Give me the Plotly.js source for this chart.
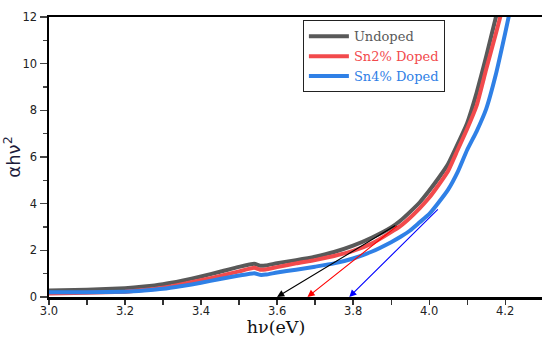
<!DOCTYPE html>
<html>
<head>
<meta charset="utf-8">
<script src="https://cdn.plot.ly/plotly-3.0.1.min.js"></script>
<style>html,body{margin:0;padding:0;background:#fff;}#chart{width:542px;height:337px;}</style>
</head>
<body>
<div id="chart"></div>
<script>
// photon energy hv (eV)
var energy = [3.00, 3.10, 3.20, 3.25, 3.30, 3.35, 3.40, 3.45, 3.50, 3.54, 3.555, 3.57, 3.60, 3.65, 3.70, 3.75, 3.80, 3.85, 3.90, 3.925, 3.95, 3.975, 4.00, 4.025, 4.05, 4.075, 4.10, 4.125, 4.15, 4.175, 4.20, 4.225];
// (alpha h nu)^2 for each sample
var undoped = [0.28, 0.31, 0.38, 0.45, 0.55, 0.70, 0.88, 1.08, 1.29, 1.42, 1.34, 1.35, 1.45, 1.58, 1.73, 1.93, 2.20, 2.55, 2.98, 3.28, 3.65, 4.05, 4.55, 5.10, 5.70, 6.55, 7.45, 8.75, 10.3, 11.95, 13.6, 15.3];
var sn2 = [0.15, 0.18, 0.23, 0.30, 0.40, 0.55, 0.72, 0.90, 1.10, 1.25, 1.17, 1.18, 1.28, 1.44, 1.58, 1.76, 1.98, 2.30, 2.78, 3.05, 3.40, 3.80, 4.25, 4.80, 5.40, 6.30, 7.20, 8.20, 9.75, 11.25, 12.8, 14.4];
var sn4 = [0.20, 0.20, 0.23, 0.28, 0.35, 0.47, 0.61, 0.77, 0.92, 1.02, 0.95, 0.96, 1.05, 1.17, 1.30, 1.44, 1.65, 1.95, 2.35, 2.58, 2.85, 3.20, 3.55, 4.05, 4.60, 5.35, 6.30, 7.10, 8.05, 9.50, 11.3, 13.2];
var seriesNames = ["Undoped", "Sn2% Doped", "Sn4% Doped"];
var seriesColors = ["#595959", "#f24a4c", "#2f80e6"];
// Tauc extrapolation lines: start point on curve, intercept on energy axis
var tangentStartX = [3.915, 3.92, 4.027];
var tangentStartY = [3.1, 3.1, 3.82];
var bandGap = [3.60, 3.68, 3.79];
var tangentColors = ["#000000", "#ff0000", "#0000ff"];

var ys = [undoped, sn2, sn4];
var traces = ys.map(function (y, i) {
  return {
    x: energy, y: y, type: "scatter", mode: "lines",
    name: '<span style="color:' + seriesColors[i] + '">' + seriesNames[i] + '</span>',
    line: {color: seriesColors[i], width: 4, shape: "spline", smoothing: 0.4}
  };
});

var annotations = bandGap.map(function (bg, i) {
  return {
    x: bg, y: 0, xref: "x", yref: "y",
    ax: tangentStartX[i], ay: tangentStartY[i], axref: "x", ayref: "y",
    showarrow: true, arrowhead: 2, arrowsize: 1.3, arrowwidth: 1.1,
    arrowcolor: tangentColors[i], text: "", standoff: 0, startstandoff: 0
  };
});

var layout = {
  width: 542, height: 337,
  margin: {l: 49, r: 0, t: 17, b: 40},
  paper_bgcolor: "#fff", plot_bgcolor: "#fff",
  showlegend: true,
  legend: {
    x: 0.515, y: 0.988, xanchor: "left", yanchor: "top",
    bgcolor: "#fff", bordercolor: "#222", borderwidth: 1,
    font: {family: "DejaVu Serif", size: 13, color: "#555"},
    tracegroupgap: 0, itemwidth: 40
  },
  xaxis: {
    range: [3.0, 4.297], dtick: 0.2, tick0: 3.0, tickformat: ".1f",
    ticks: "outside", ticklen: 5, tickwidth: 1.2, tickcolor: "#333",
    minor: {dtick: 0.1, ticklen: 5, tickwidth: 1.2, tickcolor: "#333", showgrid: false},
    showline: true, linewidth: 2.5, linecolor: "#000", mirror: true,
    showgrid: false, zeroline: false, ticklabelstandoff: -3,
    tickfont: {family: "DejaVu Sans", size: 11.5, color: "#222"},
    title: {text: "h\u03bd(eV)&nbsp;&nbsp;&nbsp;&nbsp;&nbsp;&nbsp;&nbsp;", font: {family: "DejaVu Serif", size: 17.5, color: "#111"}, standoff: 15}
  },
  yaxis: {
    range: [0, 12], dtick: 2, tick0: 0,
    ticks: "outside", ticklen: 7, tickwidth: 1.2, tickcolor: "#444",
    minor: {dtick: 1, ticklen: 4, tickwidth: 1.2, tickcolor: "#444", showgrid: false},
    showline: true, linewidth: 2.5, linecolor: "#000",
    showgrid: false, zeroline: false,
    tickfont: {family: "DejaVu Sans", size: 11.5, color: "#222"},
    title: {text: "\u03b1h\u03bd<sup>2</sup>", font: {family: "DejaVu Sans", size: 18, color: "#1c1c3c"}, standoff: 1}
  },
  annotations: annotations
};

Plotly.newPlot("chart", traces, layout, {displayModeBar: false, staticPlot: true});
</script>
</body>
</html>
